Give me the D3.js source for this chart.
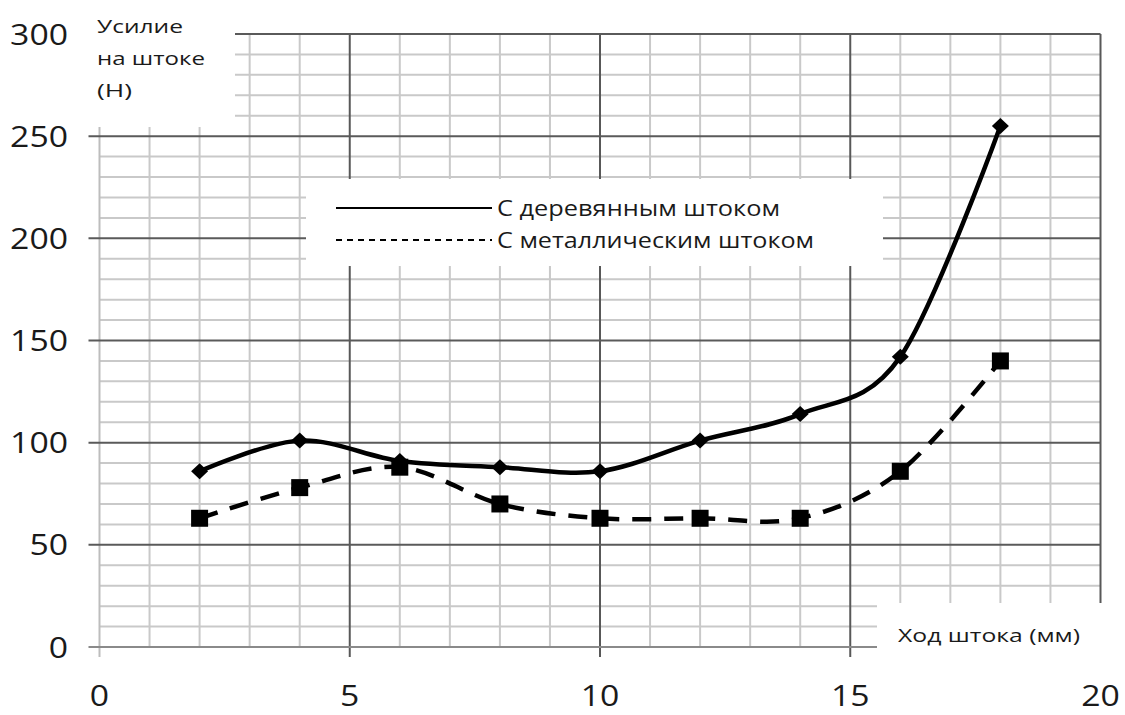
<!DOCTYPE html>
<html><head><meta charset="utf-8">
<script src="https://cdn.jsdelivr.net/npm/d3@7"></script>
<style>html,body{margin:0;padding:0;background:#fff;}svg{display:block;}</style>
</head><body>
<svg id="chart" width="1125" height="715"></svg>
<script>
// ---- data ----
const strokeMm = [2, 4, 6, 8, 10, 12, 14, 16, 18];
const woodForce = [86, 101, 91, 88, 86, 101, 114, 142, 255];
const metalForce = [63, 78, 88, 70, 63, 63, 63, 86, 140];
const xTicks = [0, 5, 10, 15, 20];
const yTicks = [0, 50, 100, 150, 200, 250, 300];
const seriesNames = ["С деревянным штоком", "С металлическим штоком"];
const yTitle = ["Усилие", "на штоке", "(Н)"];
const xTitle = "Ход штока (мм)";

const svg = d3.select("#chart");
const x = d3.scaleLinear().domain([0, 20]).range([99.5, 1100.5]);
const y = d3.scaleLinear().domain([0, 300]).range([647, 34]);
const FONT = "'Open Sans', 'Noto Sans', sans-serif";

// ---- grid ----
const grid = svg.append("g");
const minorX = d3.range(0, 21, 1).filter(v => v % 5 !== 0);
const minorY = d3.range(0, 301, 10).filter(v => v % 50 !== 0);
grid.selectAll(".mx").data(minorX).join("line")
  .attr("x1", d => x(d)).attr("x2", d => x(d)).attr("y1", y(300)).attr("y2", y(0))
  .attr("stroke", "#c9c9c9").attr("stroke-width", 2);
grid.selectAll(".my").data(minorY).join("line")
  .attr("x1", x(0)).attr("x2", x(20)).attr("y1", d => y(d)).attr("y2", d => y(d))
  .attr("stroke", "#c9c9c9").attr("stroke-width", 2);
// y axis line (light)
grid.append("line").attr("x1", x(0)).attr("x2", x(0)).attr("y1", y(300)).attr("y2", y(0) + 10)
  .attr("stroke", "#bdbdbd").attr("stroke-width", 2);
// major verticals with ticks below
grid.selectAll(".Mx").data(xTicks.filter(v => v !== 0)).join("line")
  .attr("x1", d => x(d)).attr("x2", d => x(d)).attr("y1", y(300)).attr("y2", y(0) + 10)
  .attr("stroke", "#585858").attr("stroke-width", 2);
// major horizontals with ticks left
grid.selectAll(".My").data(yTicks).join("line")
  .attr("x1", x(0) - 11).attr("x2", x(20)).attr("y1", d => y(d)).attr("y2", d => y(d))
  .attr("stroke", d => d === 0 ? "#8a8a8a" : "#5a5a5a").attr("stroke-width", 2);

// ---- white label boxes ----
svg.append("rect").attr("x", 0).attr("y", 0).attr("width", 235).attr("height", 127).attr("fill", "#fff");
svg.append("rect").attr("x", 306).attr("y", 179).attr("width", 577).attr("height", 87).attr("fill", "#fff");
svg.append("rect").attr("x", 877).attr("y", 603).attr("width", 248).attr("height", 70).attr("fill", "#fff");

// ---- series ----
const line = d3.line().curve(d3.curveCardinal.tension(0)).x(d => x(d[0])).y(d => y(d[1]));
const woodPts = strokeMm.map((v, i) => [v, woodForce[i]]);
const metalPts = strokeMm.map((v, i) => [v, metalForce[i]]);

svg.append("path").datum(metalPts).attr("d", line).attr("fill", "none")
  .attr("stroke", "#000").attr("stroke-width", 4.5).attr("stroke-dasharray", "19,13");
svg.append("path").datum(woodPts).attr("d", line).attr("fill", "none")
  .attr("stroke", "#000").attr("stroke-width", 4.5);

svg.selectAll(".sq").data(metalPts).join("rect")
  .attr("x", d => x(d[0]) - 8.5).attr("y", d => y(d[1]) - 8.5)
  .attr("width", 17).attr("height", 17).attr("fill", "#000");
svg.selectAll(".dm").data(woodPts).join("path")
  .attr("d", d => {
    const cx = x(d[0]), cy = y(d[1]);
    return `M${cx},${cy - 8}L${cx + 8.5},${cy}L${cx},${cy + 8}L${cx - 8.5},${cy}Z`;
  }).attr("fill", "#000");

// ---- tick labels ----
const tickFont = 29;
svg.selectAll(".yl").data(yTicks).join("text")
  .attr("x", 68).attr("y", d => y(d) + 10.5).attr("text-anchor", "end")
  .attr("font-family", FONT).attr("font-size", tickFont).attr("fill", "#1a1a1a")
  .attr("textLength", d => String(d).length * 19.3).attr("lengthAdjust", "spacingAndGlyphs")
  .text(d => d);
svg.selectAll(".xl").data(xTicks).join("text")
  .attr("x", d => x(d)).attr("y", 706).attr("text-anchor", "middle")
  .attr("font-family", FONT).attr("font-size", tickFont).attr("fill", "#1a1a1a")
  .attr("textLength", d => String(d).length * 19.3).attr("lengthAdjust", "spacingAndGlyphs")
  .text(d => d);

// ---- axis titles ----
const yTitleWidths = [86, 108, 35];
svg.selectAll(".yt").data(yTitle).join("text")
  .attr("x", 97).attr("y", (d, i) => 33 + i * 32)
  .attr("font-family", FONT).attr("font-size", 18).attr("fill", "#1a1a1a")
  .attr("textLength", (d, i) => yTitleWidths[i]).attr("lengthAdjust", "spacingAndGlyphs")
  .text(d => d);
svg.append("text").attr("x", 898).attr("y", 642)
  .attr("font-family", FONT).attr("font-size", 18.5).attr("fill", "#1a1a1a")
  .attr("textLength", 182).attr("lengthAdjust", "spacingAndGlyphs")
  .text(xTitle);

// ---- legend ----
const legY = [208, 240];
const legW = [283, 317];
const leg = svg.append("g");
leg.append("line").attr("x1", 336).attr("x2", 492).attr("y1", legY[0]).attr("y2", legY[0])
  .attr("stroke", "#000").attr("stroke-width", 2);
leg.append("line").attr("x1", 336).attr("x2", 492).attr("y1", legY[1]).attr("y2", legY[1])
  .attr("stroke", "#000").attr("stroke-width", 2).attr("stroke-dasharray", "6,5");
leg.selectAll("text").data(seriesNames).join("text")
  .attr("x", 497).attr("y", (d, i) => legY[i] + 7.5)
  .attr("font-family", FONT).attr("font-size", 21).attr("fill", "#1a1a1a")
  .attr("textLength", (d, i) => legW[i]).attr("lengthAdjust", "spacingAndGlyphs")
  .text(d => d);
</script>
</body></html>
